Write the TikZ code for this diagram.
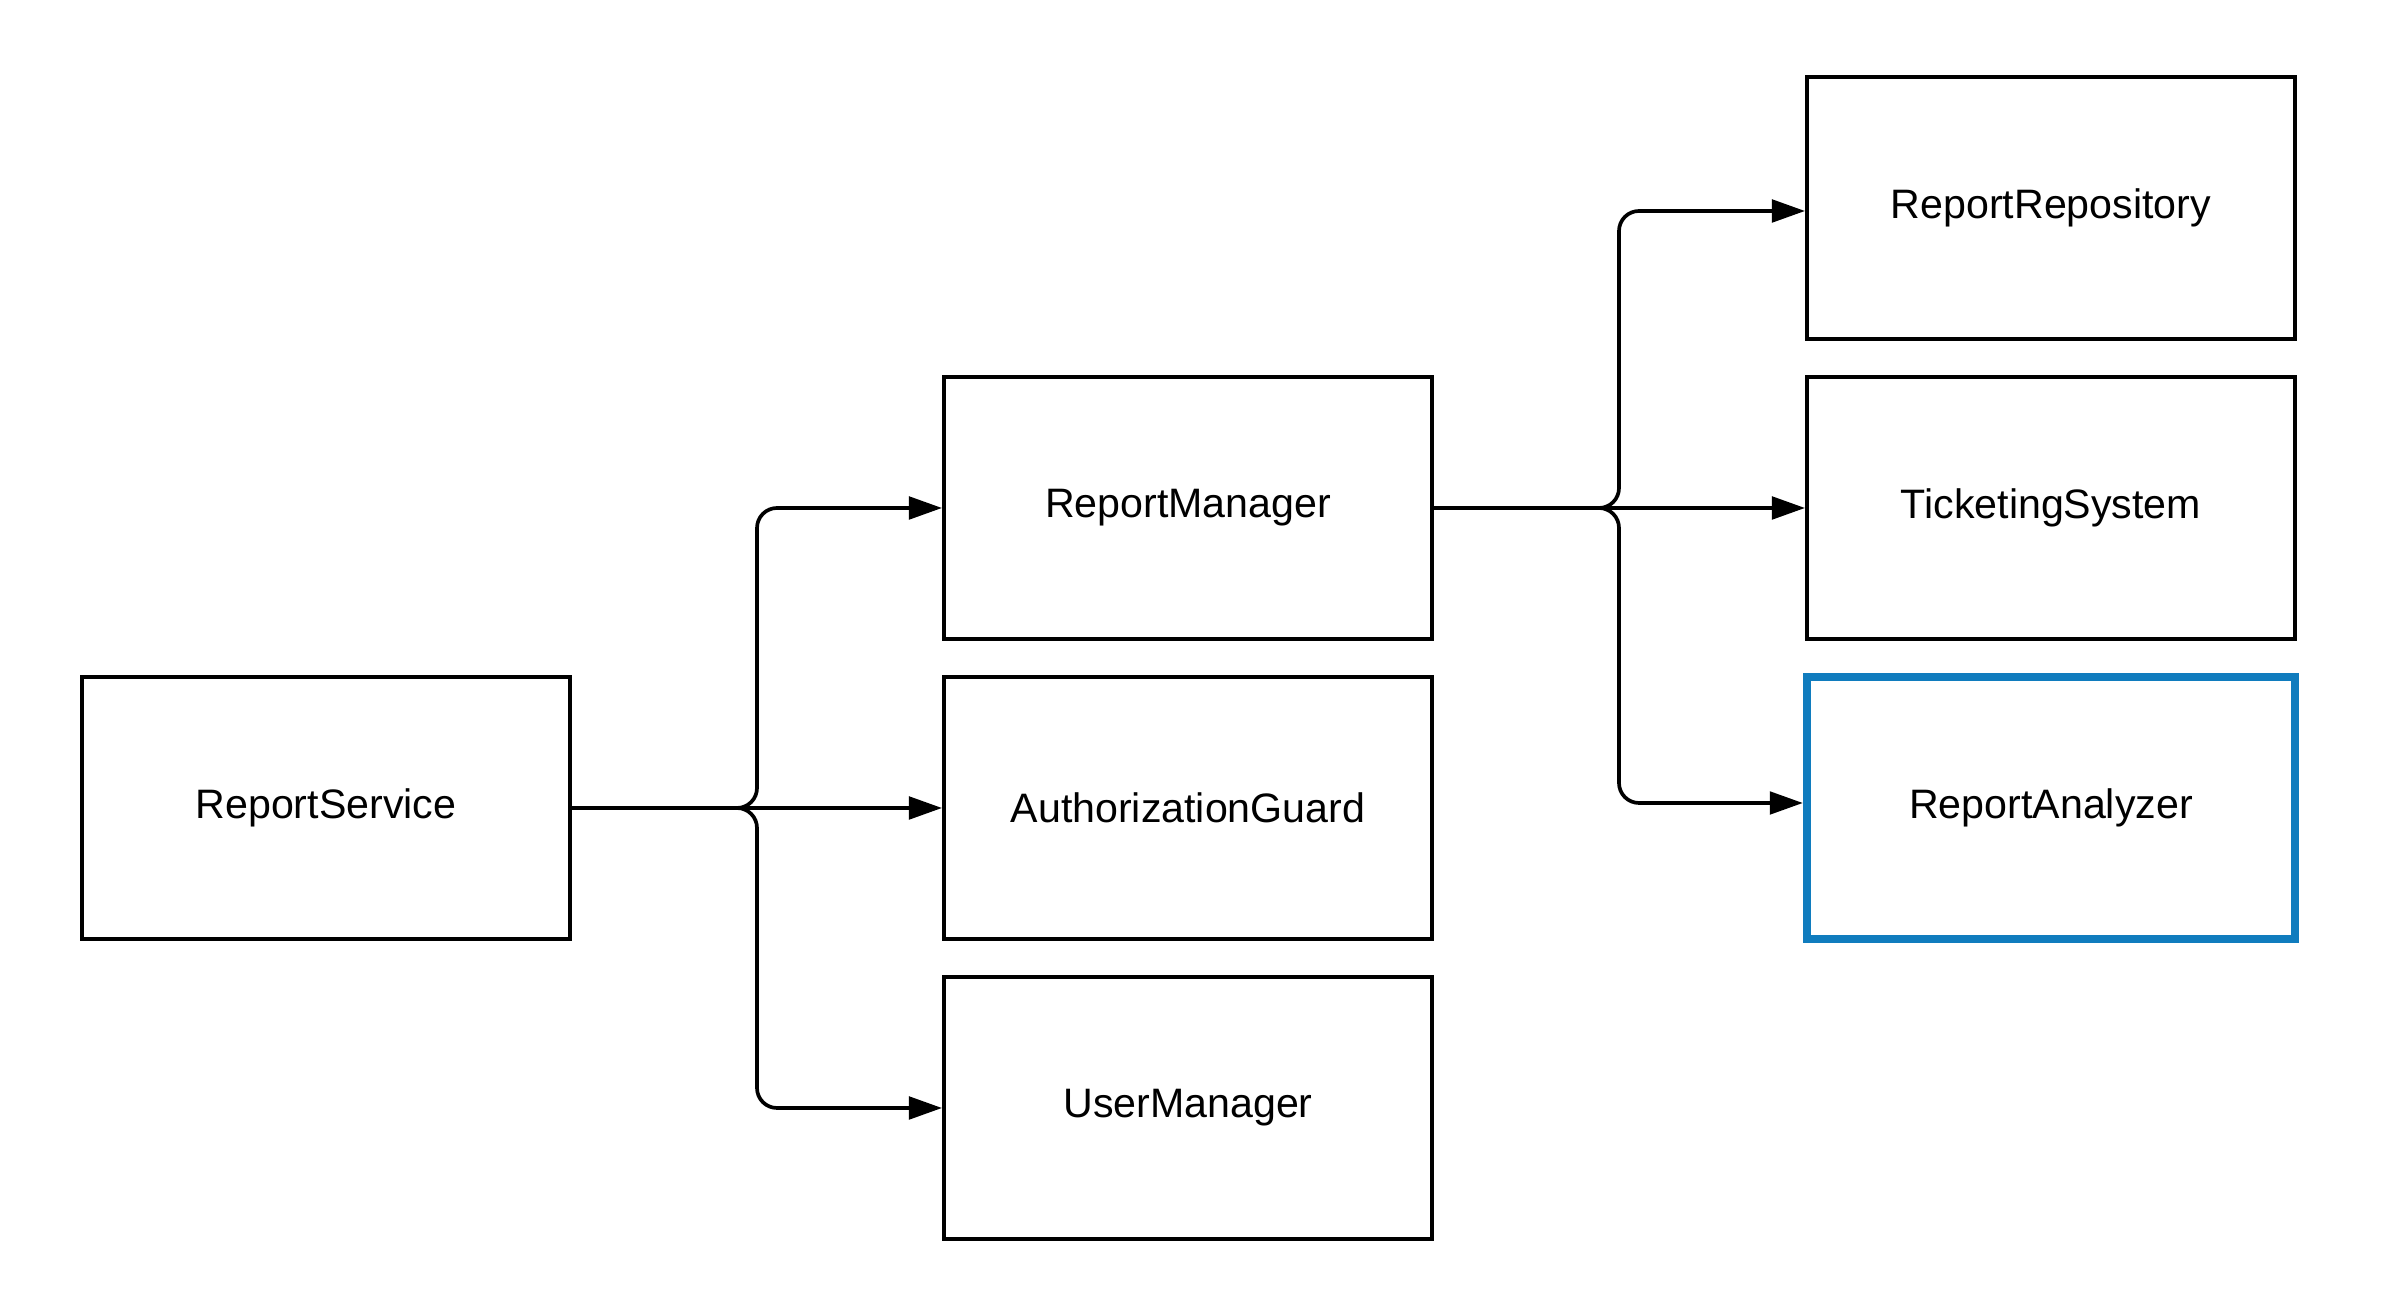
\documentclass[tikz,border=0pt]{standalone}
\usepackage{fontspec}
\setmainfont{Liberation Sans}
\usetikzlibrary{arrows.meta}
\definecolor{selblue}{RGB}{16,124,190}
\begin{document}
\begin{tikzpicture}[x=0.01cm,y=-0.01cm,
  box/.style={draw=black,line width=1.05pt,minimum width=4.88cm,minimum height=2.62cm,inner sep=0pt,font=\fontsize{11.7}{14}\selectfont},
  selbox/.style={box,draw=selblue,line width=2.3pt},
  conn/.style={line width=1.05pt,rounded corners=0.2cm,-{Triangle[length=9.4pt,width=6.4pt]}}]
\useasboundingbox (0,0) rectangle (2396,1307);
\node[box] (rs) at (326,808) {ReportService};
\node[box] (rm) at (1188,508) {ReportManager};
\node[box] (ag) at (1188,808) {AuthorizationGuard};
\node[box] (um) at (1188,1108) {UserManager};
\node[box] (rr) at (2051,208) {ReportRepository};
\node[box] (ts) at (2051,508) {TicketingSystem};
\node[selbox] (ra) at (2051,808) {ReportAnalyzer};
\coordinate (j1) at (757,808);
\coordinate (j2) at (1619,508);
\coordinate (rrin) at ([yshift=-0.03cm]rr.west);
\coordinate (rain) at ([yshift=0.05cm]ra.west);
\draw[conn] (rs.east) -| (j1 |- rm.west) -- (rm.west);
\draw[conn] (rs.east) -- (ag.west);
\draw[conn] (rs.east) -| (j1 |- um.west) -- (um.west);
\draw[conn] (rm.east) -| (j2 |- rrin) -- (rrin);
\draw[conn] (rm.east) -- (ts.west);
\draw[conn] (rm.east) -| (j2 |- rain) -- (rain);
\end{tikzpicture}
\end{document}
